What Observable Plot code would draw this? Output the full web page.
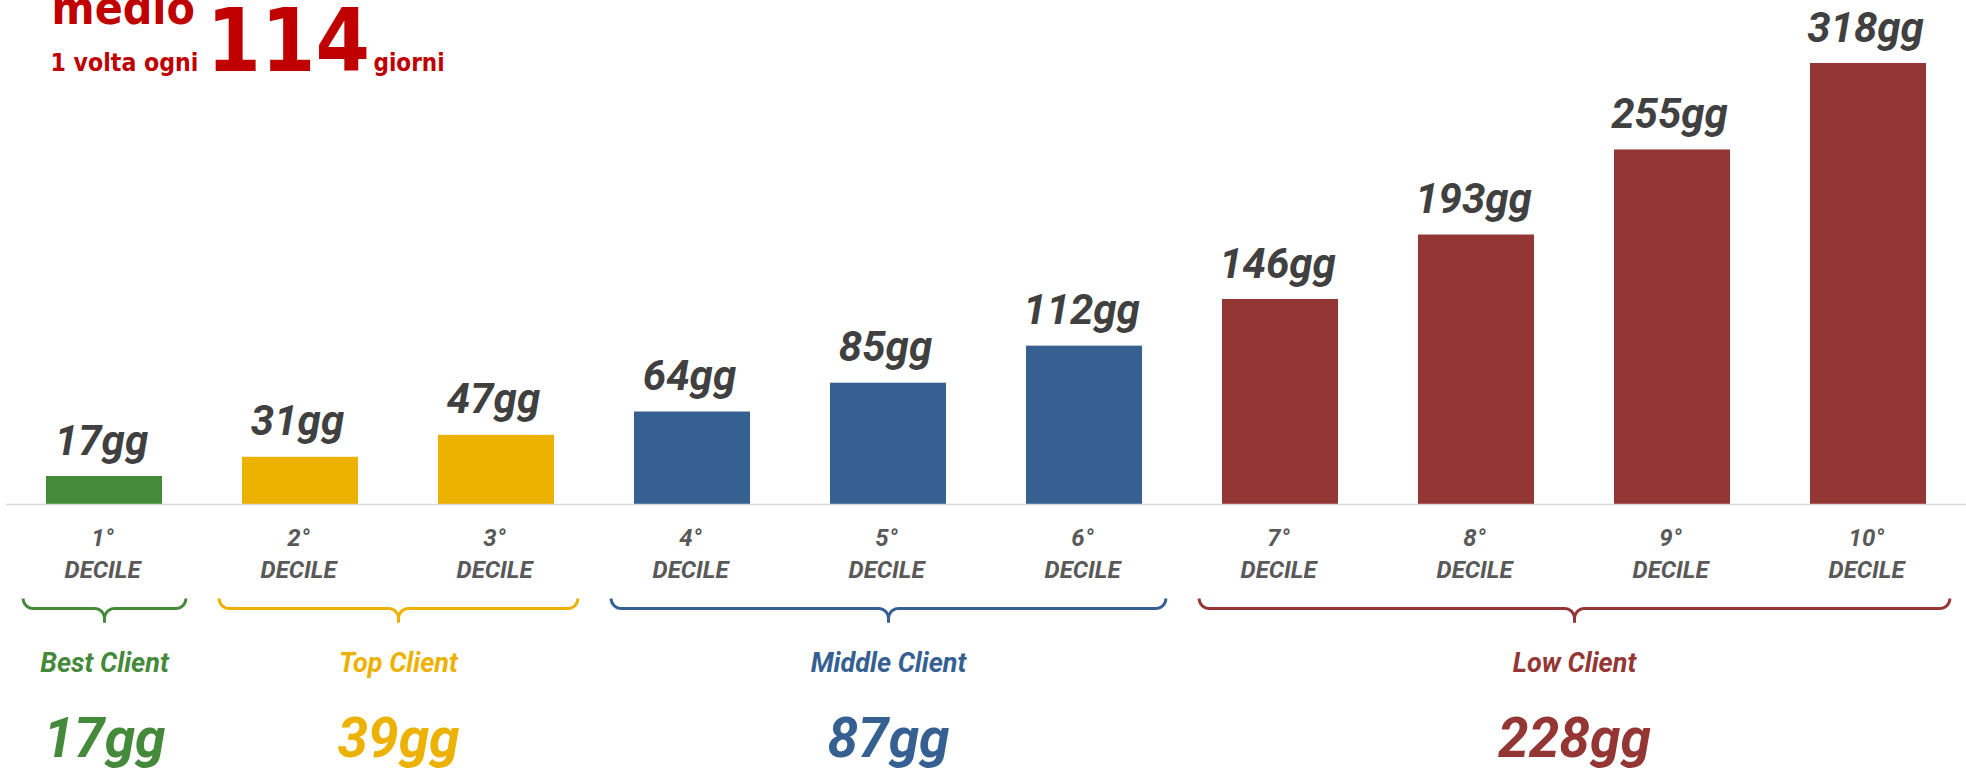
<!DOCTYPE html>
<html>
<head>
<meta charset="utf-8">
<script src="https://cdn.jsdelivr.net/npm/d3@7"></script>
<script src="https://cdn.jsdelivr.net/npm/@observablehq/plot@0.6"></script>
<style>
  html, body { margin: 0; padding: 0; background: #ffffff; }
  #chart { width: 1966px; height: 770px; }
</style>
</head>
<body>
<div id="chart"></div>
<script>
// ---- data ----
const deciles = [1, 2, 3, 4, 5, 6, 7, 8, 9, 10];
const decileLabels = ["1°", "2°", "3°", "4°", "5°", "6°", "7°", "8°", "9°", "10°"];
const days = [17, 31, 47, 64, 85, 112, 146, 193, 255, 318];
const decileGroup = ["Best Client", "Top Client", "Top Client", "Middle Client", "Middle Client",
  "Middle Client", "Low Client", "Low Client", "Low Client", "Low Client"];
const groups = ["Best Client", "Top Client", "Middle Client", "Low Client"];
const groupDays = [17, 39, 87, 228];
const groupFirst = [1, 2, 4, 7];
const groupLast = [1, 3, 6, 10];
const groupColors = ["#45893a", "#edb100", "#366092", "#943634"];
const averageDays = 114;
const axisMin = -3.4; // value axis minimum (estimated)

// ---- layout ----
const W = 1966, H = 770;
const mLeft = 6, mRight = 0, mTop = 63, mBottom = 266;
const xDomain = [0.5, 10.5];
const yMax = 318;
const pxPerX = (W - mLeft - mRight) / (xDomain[1] - xDomain[0]);
const pxPerY = (H - mTop - mBottom) / (yMax - axisMin);
const halfBar = 0.296;
const inset = 0.415;

const rows = deciles.map((d, i) => ({d, label: decileLabels[i], value: days[i], group: decileGroup[i]}));
const grp = groups.map((g, i) => ({
  g, value: groupDays[i], color: groupColors[i],
  xs: groupFirst[i] - inset, xe: groupLast[i] + inset,
  xc: (groupFirst[i] + groupLast[i]) / 2
}));

// bracket geometry (pixel offsets below the axis, converted into scale units)
function bracketHalf(gr, side) {
  const r = 10, top = 94, mid = 104, stub = 118, n = 10;
  const pts = [];
  const xEnd = side < 0 ? gr.xs : gr.xe;
  const toX = px => px / pxPerX;
  const toY = px => axisMin - px / pxPerY;
  for (let k = 0; k <= n; k++) {
    const a = (k / n) * Math.PI / 2;
    const ox = (r - r * Math.cos(a)) * (side < 0 ? 1 : -1);
    pts.push({x: xEnd + toX(ox), y: toY(top + r * Math.sin(a)), g: gr.g + side});
  }
  for (let k = 0; k <= n; k++) {
    const a = (k / n) * Math.PI / 2;
    const ox = (-r + r * Math.sin(a)) * (side < 0 ? 1 : -1);
    pts.push({x: gr.xc + toX(ox), y: toY(mid + r - r * Math.cos(a)), g: gr.g + side});
  }
  pts.push({x: gr.xc, y: toY(stub), g: gr.g + side});
  return pts.map(p => ({...p, group: gr.g}));
}
const bracketPts = grp.flatMap(gr => [...bracketHalf(gr, -1), ...bracketHalf(gr, 1)]);

const font = "Roboto, 'Noto Sans', sans-serif";
const titleFont = "'DejaVu Sans Condensed', 'DejaVu Sans', sans-serif";
const red = "#c00000";

const chart = Plot.plot({
  width: W,
  height: H,
  marginLeft: mLeft,
  marginRight: mRight,
  marginTop: mTop,
  marginBottom: mBottom,
  x: {type: "linear", domain: xDomain, axis: null},
  y: {type: "linear", domain: [axisMin, yMax], axis: null},
  color: {domain: groups, range: groupColors},
  style: {background: "#ffffff", fontFamily: font},
  marks: [
    Plot.rectY(rows, {x1: d => d.d - halfBar, x2: d => d.d + halfBar, y1: axisMin, y2: "value", fill: "group"}),
    Plot.ruleY([axisMin], {stroke: "#d9d9d9", strokeWidth: 1.5}),
    // value labels
    Plot.text(rows, {x: "d", y: "value", text: d => `${d.value}gg`, dy: -22, dx: -3, lineAnchor: "bottom",
      fontSize: 42, fontWeight: "bold", fontStyle: "italic", fill: "#404040", fontFamily: font}),
    // decile labels
    Plot.text(rows, {x: "d", y: axisMin, text: d => `${d.label}\nDECILE`, dy: 73, dx: -2, lineAnchor: "bottom",
      lineHeight: 1.333, fontSize: 24, fontWeight: "bold", fontStyle: "italic", fill: "#595959", fontFamily: font}),
    // brackets
    Plot.line(bracketPts, {x: "x", y: "y", z: "g", stroke: "group", strokeWidth: 3,
      strokeLinejoin: "round", strokeLinecap: "butt", curve: "linear"}),
    // group names
    Plot.text(grp, {x: "xc", y: axisMin, text: "g", dy: 167, lineAnchor: "bottom",
      fontSize: 27, fontWeight: "bold", fontStyle: "italic", fill: "color", fontFamily: font}),
    // group averages
    Plot.text(grp, {x: "xc", y: axisMin, text: d => `${d.value}gg`, dy: 252, lineAnchor: "bottom",
      fontSize: 55, fontWeight: "bold", fontStyle: "italic", fill: "color", fontFamily: font}),
    // title block
    Plot.text(["medio"], {frameAnchor: "top-left", text: d => d, dx: 45, dy: -40, lineAnchor: "bottom",
      textAnchor: "start", fontSize: 46, fontWeight: "bold", fill: red, fontFamily: titleFont}),
    Plot.text(["1 volta ogni"], {frameAnchor: "top-left", text: d => d, dx: 44, dy: 7, lineAnchor: "bottom",
      textAnchor: "start", fontSize: 24.6, fontWeight: "bold", fill: red, fontFamily: titleFont}),
    Plot.text([String(averageDays)], {frameAnchor: "top-left", text: d => d, dx: 200, dy: 7, lineAnchor: "bottom",
      textAnchor: "start", fontSize: 87, fontWeight: "bold", fill: red, fontFamily: titleFont}),
    Plot.text(["giorni"], {frameAnchor: "top-left", text: d => d, dx: 367, dy: 7, lineAnchor: "bottom",
      textAnchor: "start", fontSize: 24, fontWeight: "bold", fill: red, fontFamily: titleFont})
  ]
});
document.getElementById("chart").appendChild(chart);
</script>
</body>
</html>
